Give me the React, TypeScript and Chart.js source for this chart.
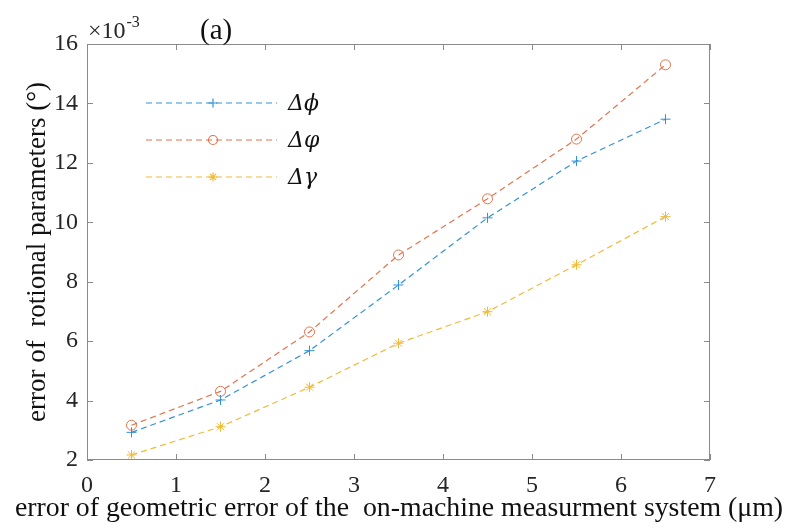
import React, { useEffect, useRef } from "react";
import { Chart, registerables } from "chart.js";

Chart.register(...registerables);

const xValues = [0.5, 1.5, 2.5, 3.5, 4.5, 5.5, 6.5];
const dPhi = [2.93, 4.02, 5.68, 7.89, 10.15, 12.06, 13.47];
const dVarphi = [3.17, 4.31, 6.31, 8.9, 10.79, 12.8, 15.3];
const dGamma = [2.17, 3.12, 4.45, 5.93, 6.99, 8.57, 10.19];

const seriesNames = ["Δϕ", "Δφ", "Δγ"];
const seriesColors = ["#3391d6", "#e0744f", "#eebb3a"];
const seriesMarkers = ["cross", "circle", "star"];

const xTitle = "error of geometric error of the  on-machine measurment system (μm)";
const yTitle = "error of  rotional parameters (°)";
const panelLabel = "(a)";

const SERIF = "'Liberation Serif', 'Times New Roman', serif";

function drawMarker(ctx: CanvasRenderingContext2D, style: string, x: number, y: number, r: number) {
  ctx.beginPath();
  if (style === "circle") {
    ctx.arc(x, y, r, 0, Math.PI * 2);
  } else if (style === "cross") {
    ctx.moveTo(x - r, y);
    ctx.lineTo(x + r, y);
    ctx.moveTo(x, y - r);
    ctx.lineTo(x, y + r);
  } else {
    ctx.moveTo(x - r, y);
    ctx.lineTo(x + r, y);
    ctx.moveTo(x, y - r);
    ctx.lineTo(x, y + r);
    const d = r * 0.7071;
    ctx.moveTo(x - d, y - d);
    ctx.lineTo(x + d, y + d);
    ctx.moveTo(x - d, y + d);
    ctx.lineTo(x + d, y - d);
  }
  ctx.stroke();
}

const decorPlugin = {
  id: "decor",
  afterDraw(chart: any) {
    const { ctx, chartArea } = chart;
    const { left, right, top, bottom } = chartArea;
    const xs = chart.scales.x;
    const ys = chart.scales.y;
    ctx.save();
    // box
    ctx.strokeStyle = "#8a8a8a";
    ctx.lineWidth = 1;
    ctx.setLineDash([]);
    ctx.strokeRect(left + 0.5, top + 0.5, right - left - 1, bottom - top - 1);
    // ticks inward
    const tl = 6;
    ctx.beginPath();
    for (let v = 0; v <= 7; v++) {
      const px = Math.round(xs.getPixelForValue(v)) + 0.5;
      ctx.moveTo(px, bottom);
      ctx.lineTo(px, bottom - tl);
      ctx.moveTo(px, top);
      ctx.lineTo(px, top + tl);
    }
    for (let v = 2; v <= 16; v += 2) {
      const py = Math.round(ys.getPixelForValue(v)) + 0.5;
      ctx.moveTo(left, py);
      ctx.lineTo(left + tl, py);
      ctx.moveTo(right, py);
      ctx.lineTo(right - tl, py);
    }
    ctx.stroke();

    // x axis title
    ctx.fillStyle = "#111";
    ctx.textBaseline = "alphabetic";
    ctx.textAlign = "center";
    ctx.font = `27.8px ${SERIF}`;
    ctx.fillText(xTitle, 399, 516);

    // exponent label
    ctx.fillStyle = "#262626";
    ctx.textAlign = "left";
    ctx.font = `24px ${SERIF}`;
    ctx.fillText("×10", left + 1, top - 6);
    const w = ctx.measureText("×10").width;
    ctx.font = `16px ${SERIF}`;
    ctx.fillText("-3", left + 1 + w + 1, top - 17);

    // panel label
    ctx.font = `29px ${SERIF}`;
    ctx.fillStyle = "#111";
    ctx.fillText(panelLabel, 200, top - 5);

    // legend
    const legendY = [103, 140, 177];
    for (let i = 0; i < 3; i++) {
      const y = legendY[i];
      ctx.strokeStyle = seriesColors[i];
      ctx.lineWidth = 1.2;
      ctx.setLineDash([6, 4]);
      ctx.beginPath();
      ctx.moveTo(146, y);
      ctx.lineTo(277, y);
      ctx.stroke();
      ctx.setLineDash([]);
      drawMarker(ctx, seriesMarkers[i], 213, y, 4.5);
      ctx.fillStyle = "#111";
      ctx.font = `italic 22px 'DejaVu Serif', ${SERIF}`;
      ctx.textBaseline = "middle";
      ctx.fillText(seriesNames[i], 288, y + 1);
    }
    ctx.restore();
  },
};

function makeDataset(label: string, data: number[], i: number) {
  return {
    label,
    data: data.map((v, k) => ({ x: xValues[k], y: v })),
    borderColor: seriesColors[i],
    backgroundColor: "rgba(0,0,0,0)",
    borderWidth: 1.2,
    borderDash: [6, 4],
    pointStyle: seriesMarkers[i] === "cross" ? "cross" : seriesMarkers[i] === "circle" ? "circle" : "star",
    pointRadius: 5,
    pointBorderWidth: 1,
    pointBorderColor: seriesColors[i],
    pointBackgroundColor: "rgba(0,0,0,0)",
    tension: 0,
    fill: false,
  };
}

export default function App() {
  const ref = useRef<HTMLCanvasElement>(null);
  useEffect(() => {
    if (!ref.current) return;
    const chart = new Chart(ref.current, {
      type: "line",
      data: {
        datasets: [
          makeDataset(seriesNames[0], dPhi, 0),
          makeDataset(seriesNames[1], dVarphi, 1),
          makeDataset(seriesNames[2], dGamma, 2),
        ],
      },
      options: {
        responsive: false,
        animation: false,
        layout: { padding: { left: 0, right: 77, top: 44, bottom: 0 } },
        plugins: { legend: { display: false }, tooltip: { enabled: false } },
        scales: {
          x: {
            type: "linear",
            min: 0,
            max: 7,
            ticks: { stepSize: 1, padding: 11, color: "#262626", font: { family: SERIF, size: 24 } },
            grid: { display: false, drawTicks: false },
            border: { display: false },
            title: { display: false, text: xTitle },
            afterFit: (s: any) => {
              s.height = 71;
            },
          },
          y: {
            type: "linear",
            min: 2,
            max: 16,
            ticks: { stepSize: 2, padding: 9, color: "#262626", font: { family: SERIF, size: 24 } },
            grid: { display: false, drawTicks: false },
            border: { display: false },
            title: {
              display: true,
              text: yTitle,
              color: "#111",
              font: { family: SERIF, size: 27 },
              padding: { top: 22, bottom: 0 },
            },
            afterFit: (s: any) => {
              s.width = 87;
            },
          },
        },
      },
      plugins: [decorPlugin],
    });
    return () => chart.destroy();
  }, []);
  return (
    <div style={{ position: "fixed", left: 0, top: 0, width: 787, height: 531, background: "#fff" }}>
      <canvas ref={ref} width={787} height={531} style={{ display: "block" }} />
    </div>
  );
}
